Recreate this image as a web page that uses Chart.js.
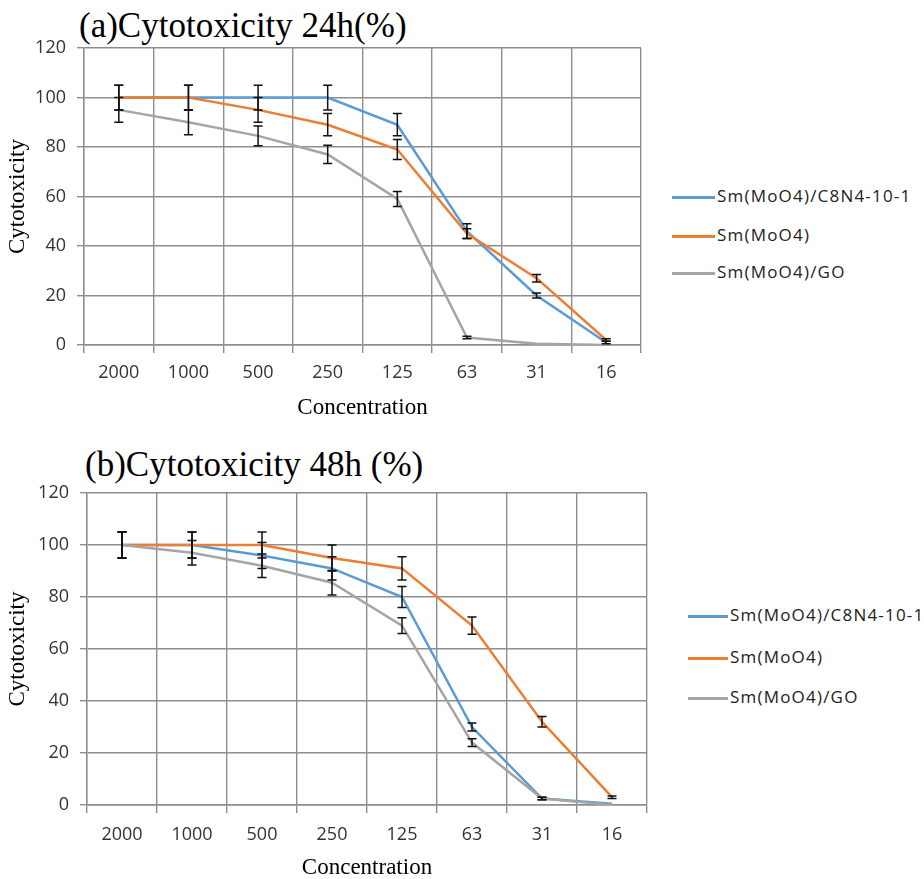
<!DOCTYPE html>
<html>
<head>
<meta charset="utf-8">
<script src="https://cdn.jsdelivr.net/npm/chart.js@4.4.1/dist/chart.umd.min.js"></script>
<style>
  body { margin: 0; background: #fff; width: 924px; height: 879px; position: relative; overflow: hidden; }
  .box { position: absolute; left: 0; }
  .title { position: absolute; font-family: "Liberation Serif", "Times New Roman", serif; font-size: 35px; line-height: 35px; color: #000; white-space: nowrap; }
  .leg { position: absolute; height: 20px; line-height: 20px; font-family: "Open Sans", sans-serif; font-size: 17px; letter-spacing: 1.2px; color: #222; white-space: nowrap; }
  .leg i { display: inline-block; height: 2.5px; vertical-align: middle; margin-right: 2px; }
</style>
</head>
<body>
<div class="title" style="left:79px; top:8px;">(a)Cytotoxicity 24h(%)</div>
<div class="box" style="top:0; width:660px; height:440px;"><canvas id="chart24"></canvas></div>
<div id="legend24"></div>

<div class="title" style="left:85px; top:447px;">(b)Cytotoxicity 48h (%)</div>
<div class="box" style="top:440px; width:670px; height:460px;"><canvas id="chart48"></canvas></div>
<div id="legend48"></div>

<script>
// ===== Cytotoxicity charts (24h / 48h) =====

const concentrations = ['2000', '1000', '500', '250', '125', '63', '31', '16'];
const seriesNames = ['Sm(MoO4)/C8N4-10-1', 'Sm(MoO4)', 'Sm(MoO4)/GO'];
const seriesColors = ['#5B9BD5', '#ED7D31', '#A5A5A5'];
const yTicks = [0, 20, 40, 60, 80, 100, 120];

// 24h values
const c8n4_24h = [100, 100, 100, 100, 89, 46, 20, 1];
const moo4_24h = [100, 100, 95, 89, 79, 45, 27, 2];
const go_24h = [95, 90, 84.5, 77, 59, 3, 0.5, 0];
const c8n4_24h_err = [5, 5, 5, 5, 4.5, 3, 1, 0.5];
const moo4_24h_err = [5, 5, 5, 4.5, 4, 2, 1.5, 0.5];
const go_24h_err = [5, 5, 4, 3.7, 3, 0.5, 0, 0];

// 48h values
const c8n4_48h = [100, 100, 96, 91, 80, 30, 2.5, 0.5];
const moo4_48h = [100, 100, 100, 95, 91, 69, 32, 3];
const go_48h = [100, 97, 92, 85.5, 69, 24, 2.5, 0];
const c8n4_48h_err = [5, 5, 5, 4.5, 4, 1.5, 0.5, 0];
const moo4_48h_err = [5, 5, 5, 5, 4.5, 3.3, 2, 0.5];
const go_48h_err = [5, 4.7, 4.5, 4.7, 3, 1.5, 0.5, 0];

const tickFont = { family: "'Open Sans', sans-serif", size: 18 };
const axisTitleFont = { family: "'Liberation Serif', 'Times New Roman', serif", size: 23 };
const gridColor = '#8e8e8e';

// draws vertical error bars with caps from each dataset's `errors` array
const errorBarPlugin = {
  id: 'errorBars',
  afterDatasetsDraw(chart) {
    const ctx = chart.ctx;
    const yScale = chart.scales.y;
    ctx.save();
    ctx.strokeStyle = '#111';
    ctx.lineWidth = 1.5;
    chart.data.datasets.forEach((ds, i) => {
      const meta = chart.getDatasetMeta(i);
      if (!ds.errors) return;
      meta.data.forEach((pt, j) => {
        const err = ds.errors[j];
        if (!err) return;
        const v = ds.data[j];
        const yTop = yScale.getPixelForValue(v + err);
        const yBot = yScale.getPixelForValue(v - err);
        const x = pt.x;
        ctx.beginPath();
        ctx.moveTo(x, yTop); ctx.lineTo(x, yBot);
        ctx.moveTo(x - 4.5, yTop); ctx.lineTo(x + 4.5, yTop);
        ctx.moveTo(x - 4.5, yBot); ctx.lineTo(x + 4.5, yBot);
        ctx.stroke();
      });
    });
    ctx.restore();
  }
};

function makeDataset(idx, values, errors) {
  return {
    label: seriesNames[idx],
    data: values,
    errors: errors,
    borderColor: seriesColors[idx],
    backgroundColor: seriesColors[idx],
    borderWidth: 2.5,
    pointRadius: 0,
    tension: 0,
    fill: false,
    order: 3 - idx
  };
}

function createChart(canvasId, values, errors, layout) {
  const ctx = document.getElementById(canvasId).getContext('2d');
  return new Chart(ctx, {
    type: 'line',
    data: {
      labels: concentrations,
      datasets: values.map((v, i) => makeDataset(i, v, errors[i]))
    },
    options: {
      responsive: true,
      maintainAspectRatio: false,
      animation: false,
      layout: { padding: { top: layout.top, right: layout.right, bottom: layout.bottom, left: 0 } },
      plugins: {
        legend: { display: false },
        tooltip: { enabled: false }
      },
      scales: {
        x: {
          type: 'category',
          offset: true,
          grid: { offset: true, color: gridColor, lineWidth: 1.4, tickLength: 8, drawTicks: true },
          border: { color: gridColor, width: 1.4 },
          ticks: { color: '#333', font: tickFont, padding: layout.xPad, maxRotation: 0, autoSkip: false },
          title: {
            display: true,
            text: 'Concentration',
            color: '#000',
            font: axisTitleFont,
            padding: { top: 0, bottom: 3 }
          },
          afterFit: (scale) => { scale.height = 80; }
        },
        y: {
          min: 0,
          max: 120,
          afterBuildTicks: (scale) => { scale.ticks = yTicks.map(v => ({ value: v })); },
          grid: { color: gridColor, lineWidth: 1.4, tickLength: 7 },
          border: { color: gridColor, width: 1.4 },
          ticks: { color: '#333', font: tickFont, padding: 11 },
          title: {
            display: true,
            text: 'Cytotoxicity',
            color: '#000',
            font: axisTitleFont,
            padding: { top: 4, bottom: 0 }
          },
          afterFit: (scale) => { scale.width = layout.left; }
        }
      }
    },
    plugins: [errorBarPlugin]
  });
}

function buildLegend(elId, lineX, lineW, rowCenters) {
  const host = document.getElementById(elId);
  seriesNames.forEach((name, i) => {
    const row = document.createElement('div');
    row.className = 'leg';
    row.style.left = lineX + 'px';
    row.style.top = (rowCenters[i] - 10) + 'px';
    row.innerHTML = `<i style="width:${lineW}px;background:${seriesColors[i]}"></i>${name}`;
    host.appendChild(row);
  });
}

createChart('chart24',
  [c8n4_24h, moo4_24h, go_24h],
  [c8n4_24h_err, moo4_24h_err, go_24h_err],
  { top: 48, right: 19, bottom: 15, left: 84, xPad: 9 });

createChart('chart48',
  [c8n4_48h, moo4_48h, go_48h],
  [c8n4_48h_err, moo4_48h_err, go_48h_err],
  { top: 53, right: 23, bottom: 15, left: 87, xPad: 11 });

buildLegend('legend24', 672, 43, [196, 235, 272]);
buildLegend('legend48', 688, 40, [615, 657, 697]);
</script>
</body>
</html>
